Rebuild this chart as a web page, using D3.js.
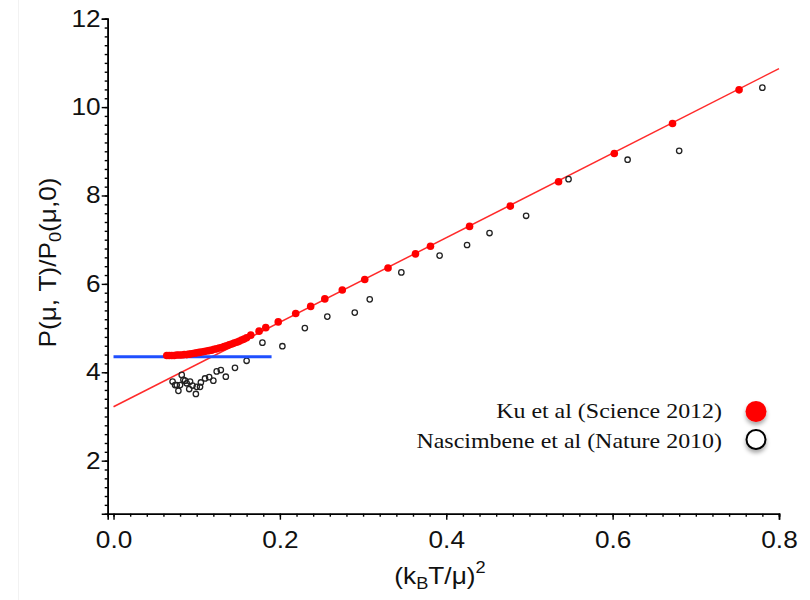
<!DOCTYPE html>
<html>
<head>
<meta charset="utf-8">
<script src="https://cdn.jsdelivr.net/npm/d3@7"></script>
<style>
  html, body { margin: 0; padding: 0; background: #fff; }
  svg { display: block; }
  .wide { transform-box: fill-box; }
</style>
</head>
<body>
<script>
// ---------------- data ----------------
const xMajorTicks = [0.0, 0.2, 0.4, 0.6, 0.8];
const yMajorTicks = [2, 4, 6, 8, 10, 12];

// Ku et al (Science 2012): dense low-T part
const kuDenseX = [0.064,0.067,0.070,0.073,0.076,0.079,0.082,0.085,0.088,0.091,0.094,0.097,0.100,0.103,0.106,0.109,0.112,0.115,0.118,0.121,0.124,0.127,0.130,0.133,0.136,0.139,0.142,0.145,0.148,0.151,0.154,0.157,0.160];
const kuDenseY = [4.38,4.38,4.38,4.38,4.39,4.39,4.39,4.40,4.40,4.41,4.42,4.43,4.44,4.45,4.46,4.47,4.48,4.49,4.50,4.52,4.53,4.55,4.56,4.58,4.60,4.62,4.64,4.66,4.68,4.70,4.73,4.75,4.78];
// Ku et al: spaced points
const kuX = [0.165,0.175,0.183,0.198,0.219,0.237,0.254,0.275,0.302,0.330,0.363,0.381,0.428,0.477,0.535,0.602,0.672,0.752];
const kuY = [4.84,4.93,5.01,5.14,5.33,5.49,5.66,5.86,6.10,6.36,6.68,6.85,7.30,7.76,8.31,8.95,9.63,10.39];

// Nascimbene et al (Nature 2010)
const naX = [0.071,0.074,0.076,0.078,0.080,0.082,0.084,0.086,0.088,0.091,0.092,0.095,0.099,0.100,0.104,0.105,0.110,0.115,0.120,0.124,0.129,0.135,0.146,0.160,0.179,0.203,0.230,0.257,0.290,0.308,0.346,0.392,0.425,0.452,0.496,0.547,0.618,0.680,0.780];
const naY = [3.79,3.71,3.71,3.58,3.71,3.94,3.83,3.81,3.75,3.62,3.79,3.70,3.51,3.67,3.67,3.77,3.86,3.89,3.81,4.02,4.05,3.90,4.10,4.26,4.67,4.59,5.00,5.26,5.35,5.65,6.26,6.64,6.88,7.15,7.54,8.37,8.81,9.01,10.44];

// linear fit line and T=0 (blue) reference
const fitX = [0.0, 0.8];
const fitY = [3.22, 10.87];
const blueX = [0.0, 0.19];
const blueY = [4.35, 4.35];

const legendLabels = ["Ku et al (Science 2012)", "Nascimbene et al (Nature 2010)"];

// ---------------- chart ----------------
const W = 810, H = 600;
const svg = d3.select("body").append("svg").attr("width", W).attr("height", H);

const defs = svg.append("defs");
const f = defs.append("filter").attr("id", "shadow").attr("x", "-50%").attr("y", "-50%").attr("width", "200%").attr("height", "200%");
f.append("feDropShadow").attr("dx", 0).attr("dy", 3).attr("stdDeviation", 2).attr("flood-color", "#000").attr("flood-opacity", 0.35);

// faint page edge on the left
svg.append("line").attr("x1", 18.5).attr("x2", 18.5).attr("y1", 0).attr("y2", H)
  .attr("stroke", "#f2f2f2").attr("stroke-width", 1);

const x = d3.scaleLinear().domain([-0.007, 0.8]).range([107.7, 779]);
const y = d3.scaleLinear().domain([0.8, 12]).range([513.7, 18.7]);

const SX = 1.14;
function widen(sel, origin) {
  sel.attr("class", "wide")
     .style("transform-origin", origin)
     .style("transform", `scaleX(${SX})`);
}

const FONT = "'Liberation Sans', Arial, Helvetica, sans-serif";

// minor ticks
const xMinor = d3.range(0, 81, 2).map(d => d / 100);
const yMinor = d3.range(10, 121, 2).map(d => d / 10);

const gxMinor = svg.append("g").attr("transform", `translate(0,${y(0.8)})`)
  .call(d3.axisBottom(x).tickValues(xMinor).tickSize(3).tickFormat(""));
const gyMinor = svg.append("g").attr("transform", `translate(${x(-0.007)},0)`)
  .call(d3.axisLeft(y).tickValues(yMinor).tickSize(3).tickFormat(""));

const gx = svg.append("g").attr("transform", `translate(0,${y(0.8)})`)
  .call(d3.axisBottom(x).tickValues(xMajorTicks).tickSize(6).tickPadding(12).tickFormat(d3.format(".1f")));
const gy = svg.append("g").attr("transform", `translate(${x(-0.007)},0)`)
  .call(d3.axisLeft(y).tickValues(yMajorTicks).tickSize(6).tickPadding(1).tickFormat(d3.format("d")));

[gxMinor, gyMinor, gx, gy].forEach(g => {
  g.select(".domain").attr("stroke", "#000").attr("stroke-width", 1.6);
  g.selectAll(".tick line").attr("stroke", "#000").attr("stroke-width", 1.4);
});
gx.selectAll(".tick text").attr("font-size", 23).attr("font-family", FONT).attr("fill", "#111")
  .call(s => widen(s, "center"));
gy.selectAll(".tick text").attr("font-size", 23).attr("font-family", FONT).attr("fill", "#111")
  .call(s => widen(s, "right center"));

// axis titles
const xt = svg.append("text").attr("x", 440).attr("y", 584.5).attr("text-anchor", "middle")
  .attr("font-size", 23).attr("font-family", FONT).attr("fill", "#111");
xt.append("tspan").text("(k");
xt.append("tspan").attr("dy", 5).attr("font-size", 16).text("B");
xt.append("tspan").attr("dy", -5).text("T/\u03bc)");
xt.append("tspan").attr("dy", -11).attr("font-size", 16).text("2");
widen(xt, "center");

const ytg = svg.append("g").attr("transform", "translate(56,262.5) rotate(-90)");
const yt = ytg.append("text").attr("x", 0).attr("y", 0).attr("text-anchor", "middle")
  .attr("font-size", 23).attr("font-family", FONT).attr("fill", "#111");
yt.append("tspan").text("P(\u03bc, T)/P");
yt.append("tspan").attr("dy", 5).attr("font-size", 16).text("0");
yt.append("tspan").attr("dy", -5).text("(\u03bc,0)");
widen(yt, "center");

// lines
const line = d3.line().x(d => x(d[0])).y(d => y(d[1]));
svg.append("path").datum(fitX.map((d, i) => [d, fitY[i]])).attr("d", line)
  .attr("fill", "none").attr("stroke", "#ff2a2a").attr("stroke-width", 1.5);

// Nascimbene open circles
svg.append("g").selectAll("circle").data(naX.map((d, i) => [d, naY[i]])).join("circle")
  .attr("cx", d => x(d[0])).attr("cy", d => y(d[1])).attr("r", 2.7)
  .attr("fill", "none").attr("stroke", "#222").attr("stroke-width", 1.3);

// blue line
svg.append("path").datum(blueX.map((d, i) => [d, blueY[i]])).attr("d", line)
  .attr("fill", "none").attr("stroke", "#1f4fff").attr("stroke-width", 3);

// Ku red dots
const kuAll = kuDenseX.map((d, i) => [d, kuDenseY[i]]).concat(kuX.map((d, i) => [d, kuY[i]]));
svg.append("g").selectAll("circle").data(kuAll).join("circle")
  .attr("cx", d => x(d[0])).attr("cy", d => y(d[1])).attr("r", 3.8)
  .attr("fill", "#ff0000");

// legend
const SERIF = "'Liberation Serif', 'Times New Roman', Times, serif";
const lg = svg.append("g");
const legY = [418.3, 448.3];
legendLabels.forEach((t, i) => {
  const tx = lg.append("text").attr("x", 722).attr("y", legY[i]).attr("text-anchor", "end")
    .attr("font-size", 21).attr("font-family", SERIF).attr("fill", "#111").text(t);
  widen(tx, "right center");
});
lg.append("circle").attr("cx", 756).attr("cy", 411.5).attr("r", 10.5)
  .attr("fill", "#ff0000").attr("filter", "url(#shadow)");
lg.append("circle").attr("cx", 756).attr("cy", 439.5).attr("r", 9.5)
  .attr("fill", "#fff").attr("stroke", "#000").attr("stroke-width", 2).attr("filter", "url(#shadow)");
</script>
</body>
</html>
